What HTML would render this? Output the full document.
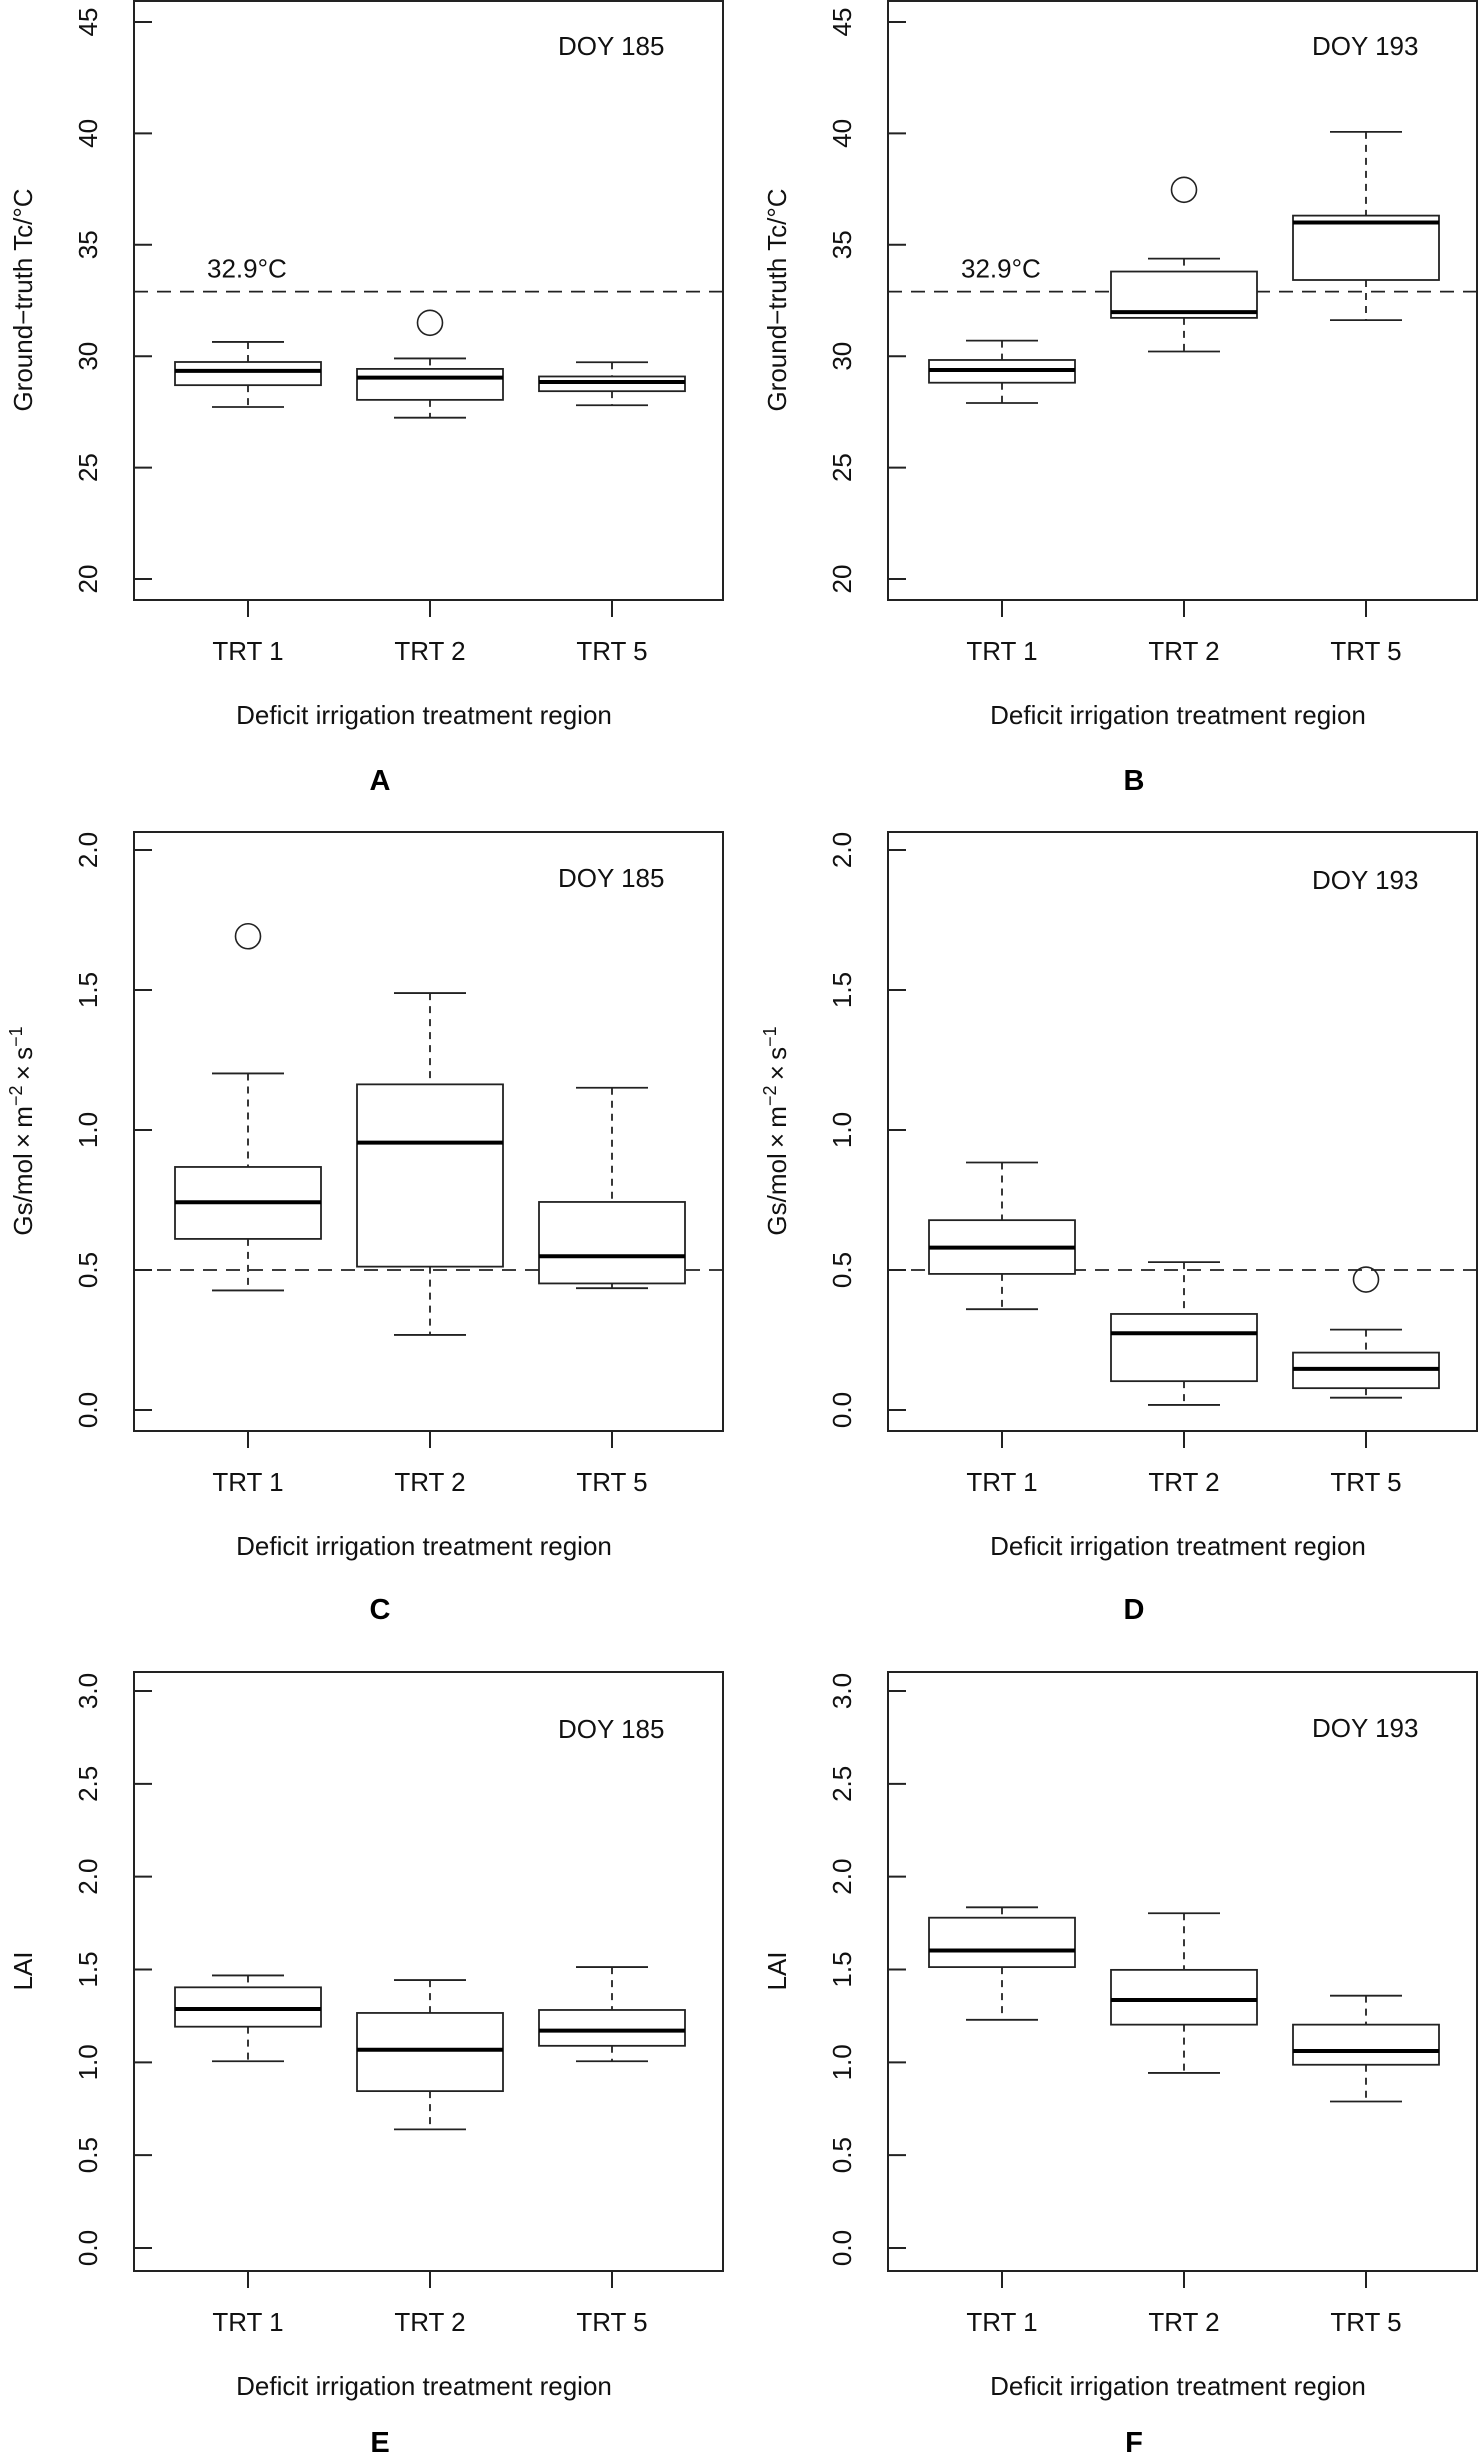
<!DOCTYPE html>
<html>
<head>
<meta charset="utf-8">
<style>
  html, body { margin: 0; padding: 0; background: #fff; }
  svg { display: block; font-family: "Liberation Sans", Arial, sans-serif; }
  .lbl { font-size: 26px; fill: #111; }
  .letter { font-size: 29px; font-weight: bold; fill: #000; }
</style>
</head>
<body>
<svg id="fig" width="1480" height="2459" viewBox="0 0 1480 2459" xmlns="http://www.w3.org/2000/svg"></svg>
<script>
const categories = ["TRT 1", "TRT 2", "TRT 5"];
const tempTicks = ["20", "25", "30", "35", "40", "45"];
const gsTicks = ["0.0", "0.5", "1.0", "1.5", "2.0"];
const laiTicks = ["0.0", "0.5", "1.0", "1.5", "2.0", "2.5", "3.0"];

// Panel A (Tc, DOY 185)
const aLow = [27.72, 27.24, 27.8];
const aQ1 = [28.7, 28.04, 28.43];
const aMed = [29.34, 29.04, 28.84];
const aQ3 = [29.74, 29.43, 29.09];
const aHigh = [30.64, 29.9, 29.73];
const aOut = [null, 31.5, null];
// Panel B (Tc, DOY 193)
const bLow = [27.9, 30.21, 31.62];
const bQ1 = [28.81, 31.72, 33.42];
const bMed = [29.38, 31.98, 36.0];
const bQ3 = [29.83, 33.8, 36.31];
const bHigh = [30.7, 34.38, 40.07];
const bOut = [null, 37.47, null];
// Panel C (Gs, DOY 185)
const cLow = [0.427, 0.268, 0.435];
const cQ1 = [0.611, 0.512, 0.452];
const cMed = [0.742, 0.955, 0.549];
const cQ3 = [0.868, 1.163, 0.743];
const cHigh = [1.202, 1.489, 1.151];
const cOut = [1.692, null, null];
// Panel D (Gs, DOY 193)
const dLow = [0.36, 0.018, 0.044];
const dQ1 = [0.486, 0.103, 0.078];
const dMed = [0.58, 0.274, 0.147];
const dQ3 = [0.678, 0.343, 0.205];
const dHigh = [0.884, 0.528, 0.287];
const dOut = [null, null, 0.466];
// Panel E (LAI, DOY 185)
const eLow = [1.006, 0.639, 1.006];
const eQ1 = [1.192, 0.845, 1.089];
const eMed = [1.287, 1.068, 1.171];
const eQ3 = [1.404, 1.266, 1.282];
const eHigh = [1.468, 1.443, 1.513];
const eOut = [null, null, null];
// Panel F (LAI, DOY 193)
const fLow = [1.229, 0.943, 0.789];
const fQ1 = [1.513, 1.203, 0.987];
const fMed = [1.602, 1.336, 1.061];
const fQ3 = [1.779, 1.498, 1.203];
const fHigh = [1.835, 1.803, 1.359];
const fOut = [null, null, null];

const refTemp = 32.9;
const refGs = 0.5;

const NS = "http://www.w3.org/2000/svg";
const svg = document.getElementById("fig");
function mk(tag, attrs, parent) {
  const e = document.createElementNS(NS, tag);
  for (const k in attrs) e.setAttribute(k, attrs[k]);
  (parent || svg).appendChild(e);
  return e;
}

const panels = [
  {id:"a", letter:"A", x0:134, row:0, ticks:tempTicks, low:aLow, q1:aQ1, med:aMed, q3:aQ3, high:aHigh, out:aOut, ref:refTemp, refLabel:"32.9°C", doy:"DOY 185", doyY:55, ytitle:"temp"},
  {id:"b", letter:"B", x0:888, row:0, ticks:tempTicks, low:bLow, q1:bQ1, med:bMed, q3:bQ3, high:bHigh, out:bOut, ref:refTemp, refLabel:"32.9°C", doy:"DOY 193", doyY:55, ytitle:"temp"},
  {id:"c", letter:"C", x0:134, row:1, ticks:gsTicks, low:cLow, q1:cQ1, med:cMed, q3:cQ3, high:cHigh, out:cOut, ref:refGs, refLabel:null, doy:"DOY 185", doyY:56, ytitle:"gs"},
  {id:"d", letter:"D", x0:888, row:1, ticks:gsTicks, low:dLow, q1:dQ1, med:dMed, q3:dQ3, high:dHigh, out:dOut, ref:refGs, refLabel:null, doy:"DOY 193", doyY:58, ytitle:"gs"},
  {id:"e", letter:"E", x0:134, row:2, ticks:laiTicks, low:eLow, q1:eQ1, med:eMed, q3:eQ3, high:eHigh, out:eOut, ref:null, refLabel:null, doy:"DOY 185", doyY:67, ytitle:"lai"},
  {id:"f", letter:"F", x0:888, row:2, ticks:laiTicks, low:fLow, q1:fQ1, med:fMed, q3:fQ3, high:fHigh, out:fOut, ref:null, refLabel:null, doy:"DOY 193", doyY:66, ytitle:"lai"}
];
const rowTop = [0, 831, 1671];
const rowTickTop = [22, 850, 1691];
const rowTickBot = [579, 1410, 2248];
const rowLetterY = [790, 1619, 2452];
const W = 590, H = 600;

panels.forEach(p => {
  const g = mk("g", {});
  
  
  const top = rowTop[p.row];
  const lo = parseFloat(p.ticks[0]), hi = parseFloat(p.ticks[p.ticks.length - 1]);
  const tT = rowTickTop[p.row], tB = rowTickBot[p.row];
  const Y = v => tB - (v - lo) / (hi - lo) * (tB - tT);
  const X = i => p.x0 + 114 + i * 182;

  const frame = mk("rect", {x:p.x0, y:top + 1, width:W - 1, height:H - 1, fill:"none", stroke:"#222", "stroke-width":2}, g);
  
  

  p.ticks.forEach(t => {
    const y = Y(parseFloat(t));
    const tk = mk("line", {x1:p.x0, x2:p.x0 + 18, y1:y, y2:y, stroke:"#222", "stroke-width":2}, g);
    
    
    const tl = mk("text", {x:0, y:0, "text-anchor":"middle", class:"lbl", transform:`translate(${p.x0 - 37},${y}) rotate(-90)`}, g);
    tl.textContent = t;
    
    
  });

  categories.forEach((c, i) => {
    const x = X(i);
    const tk = mk("line", {x1:x, x2:x, y1:top + H, y2:top + H + 17, stroke:"#222", "stroke-width":2}, g);
    
    
    const tl = mk("text", {x:x, y:top + 660, "text-anchor":"middle", class:"lbl"}, g);
    tl.textContent = c;
    
    
  });

  if (p.ref !== null) {
    const ry = Y(p.ref);
    const rl = mk("line", {x1:p.x0, x2:p.x0 + W, y1:ry, y2:ry, stroke:"#222", "stroke-width":1.8, "stroke-dasharray":"14,9"}, g);
    
    
    if (p.refLabel) {
      const t = mk("text", {x:p.x0 + 73, y:ry - 14, class:"lbl"}, g);
      t.textContent = p.refLabel;
      
      
    }
  }

  categories.forEach((c, i) => {
    const x = X(i);
    const bg = mk("g", {}, g);
    
    
    mk("line", {x1:x, x2:x, y1:Y(p.high[i]), y2:Y(p.q3[i]), stroke:"#222", "stroke-width":1.8, "stroke-dasharray":"7,6"}, bg);
    mk("line", {x1:x, x2:x, y1:Y(p.q1[i]), y2:Y(p.low[i]), stroke:"#222", "stroke-width":1.8, "stroke-dasharray":"7,6"}, bg);
    mk("line", {x1:x - 36, x2:x + 36, y1:Y(p.high[i]), y2:Y(p.high[i]), stroke:"#222", "stroke-width":1.8}, bg);
    mk("line", {x1:x - 36, x2:x + 36, y1:Y(p.low[i]), y2:Y(p.low[i]), stroke:"#222", "stroke-width":1.8}, bg);
    mk("rect", {x:x - 73, y:Y(p.q3[i]), width:146, height:Y(p.q1[i]) - Y(p.q3[i]), fill:"#fff", stroke:"#222", "stroke-width":1.8}, bg);
    mk("line", {x1:x - 73, x2:x + 73, y1:Y(p.med[i]), y2:Y(p.med[i]), stroke:"#000", "stroke-width":4}, bg);
    if (p.out[i] !== null) {
      const o = mk("circle", {cx:x, cy:Y(p.out[i]), r:12.5, fill:"none", stroke:"#222", "stroke-width":1.6}, bg);
      
      
    }
  });

  const doy = mk("text", {x:p.x0 + 424, y:top + p.doyY, class:"lbl"}, g);
  doy.textContent = p.doy;
  
  

  const xt = mk("text", {x:p.x0 + W / 2 - 5, y:top + 724, "text-anchor":"middle", class:"lbl"}, g);
  xt.textContent = "Deficit irrigation treatment region";
  
  

  const yt = mk("text", {x:0, y:0, "text-anchor":"middle", class:"lbl", transform:`translate(${p.x0 - 102},${top + H / 2}) rotate(-90)`}, g);
  
  
  if (p.ytitle === "temp") {
    yt.textContent = "Ground\u2212truth Tc/°C";
  } else if (p.ytitle === "lai") {
    yt.textContent = "LAI";
  } else {
    const parts = [["Gs/mol\u2009×\u2009m", 0], ["\u22122", 1], ["\u2009×\u2009s", 0], ["\u22121", 1]];
    parts.forEach(([s, sup]) => {
      const ts = mk("tspan", sup ? {"font-size":"18px", dy:"-10"} : {dy: yt.childNodes.length ? "10" : "0"}, yt);
      ts.textContent = s;
    });
  }

  const lt = mk("text", {x:p.x0 + W / 2 - 49, y:rowLetterY[p.row], "text-anchor":"middle", class:"letter"}, g);
  lt.textContent = p.letter;
  
  
});
</script>
</body>
</html>
